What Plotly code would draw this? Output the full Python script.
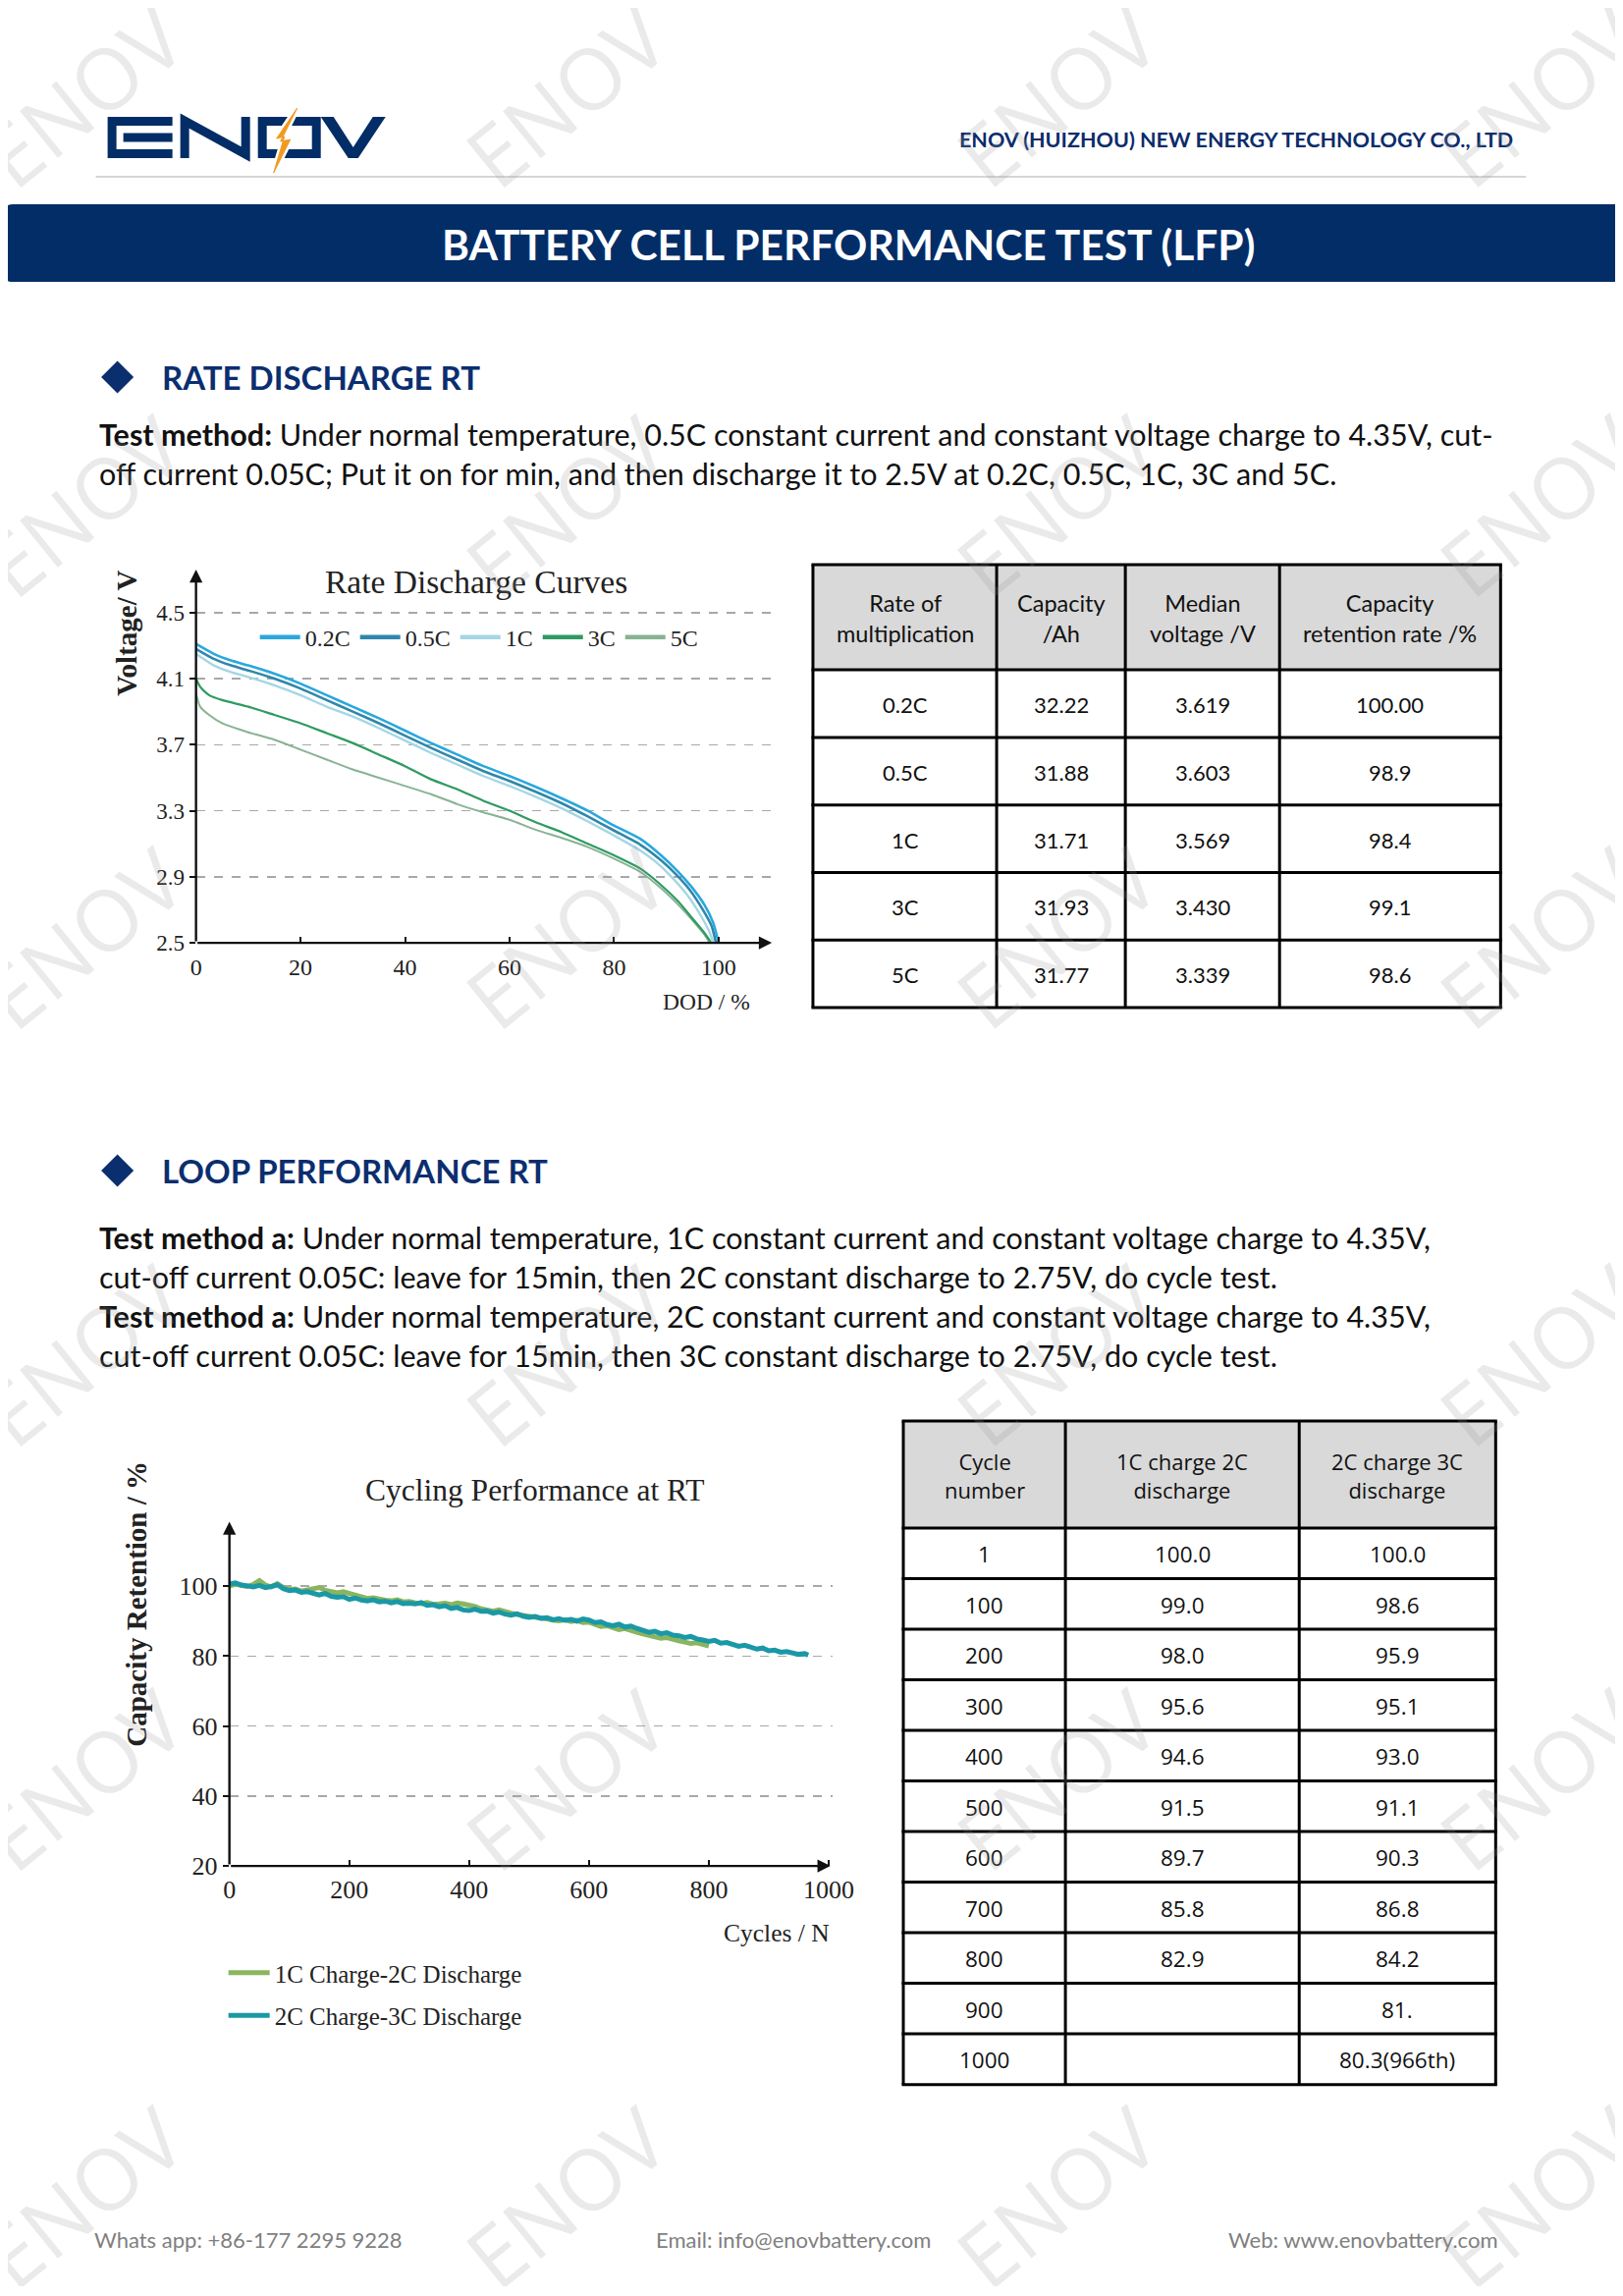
import plotly.graph_objects as go

# page geometry: the browser keeps its default 8px body margin; the capture is very slightly
# compressed/shifted, so page coordinates are mapped with a small linear compensation.
PAGE_W, PAGE_H = 1653, 2338
OFF = 8
SX, SY = 0.988, 0.9935
FW, FH = PAGE_W - 2 * OFF, 2320


def X(px):
    pc = (px - 5.6) / 0.9937
    return (pc / SX - OFF) / FW


def Y(py):
    return 1 - (py / SY - OFF) / FH


# ---------------- data: rate discharge curves ----------------
rate_labels = ["0.2C", "0.5C", "1C", "3C", "5C"]
rate_colors = ["#2aa7dc", "#2f87ab", "#a5d6e4", "#2f9a62", "#88b393"]
rate_widths = [2.6, 2.6, 2.4, 2.2, 2.0]

dod_02 = [0, 3.4, 6.7, 10, 15, 20, 25, 30, 35, 40, 45, 50, 55, 60, 65, 70, 75, 80, 85, 89, 92.3, 94.8, 97.3, 99, 100]
v_02 = [4.31, 4.25, 4.21, 4.18, 4.13, 4.07, 4.00, 3.93, 3.86, 3.785, 3.71, 3.64, 3.57, 3.51, 3.445, 3.375, 3.30,
        3.21, 3.13, 3.03, 2.93, 2.84, 2.73, 2.62, 2.50]
dod_05 = [0, 3.4, 6.7, 10, 15, 20, 25, 30, 35, 40, 45, 50, 55, 60, 65, 70, 75, 80, 85, 89, 92, 94.5, 97, 98.7, 99.5]
v_05 = [4.28, 4.22, 4.18, 4.15, 4.10, 4.04, 3.97, 3.90, 3.83, 3.755, 3.68, 3.61, 3.54, 3.48, 3.415, 3.345, 3.265,
        3.18, 3.095, 3.00, 2.91, 2.82, 2.70, 2.60, 2.50]
dod_1 = [0, 3.4, 6.7, 10, 15, 20, 25, 30, 35, 40, 45, 50, 55, 60, 65, 70, 75, 80, 85, 88, 91, 94, 96.5, 98.2, 99]
v_1 = [4.25, 4.18, 4.14, 4.11, 4.06, 4.00, 3.93, 3.87, 3.80, 3.725, 3.65, 3.58, 3.51, 3.45, 3.385, 3.315, 3.235,
       3.15, 3.06, 2.99, 2.90, 2.79, 2.67, 2.57, 2.50]
dod_3 = [0, 0.8, 2.5, 5, 10, 15, 20, 25, 30, 35, 40, 45, 50, 55, 60, 65, 70, 75, 80, 85, 89, 92.3, 95.2, 97.3, 98.6]
v_3 = [4.10, 4.05, 4.00, 3.97, 3.93, 3.88, 3.83, 3.77, 3.71, 3.64, 3.57, 3.49, 3.43, 3.36, 3.30, 3.23, 3.17, 3.10,
       3.03, 2.95, 2.85, 2.75, 2.64, 2.56, 2.50]
dod_5 = [0, 0.8, 2.5, 5, 10, 15, 20, 25, 30, 35, 40, 45, 50, 55, 60, 65, 70, 75, 80, 85, 89, 92.3, 95.2, 97.3, 98.3]
v_5 = [4.01, 3.93, 3.88, 3.83, 3.775, 3.73, 3.67, 3.61, 3.55, 3.50, 3.45, 3.40, 3.34, 3.29, 3.245, 3.185, 3.135,
       3.08, 3.01, 2.93, 2.83, 2.73, 2.63, 2.55, 2.50]

rate_dod = [dod_02, dod_05, dod_1, dod_3, dod_5]
rate_v = [v_02, v_05, v_1, v_3, v_5]

volt_ticks = [2.5, 2.9, 3.3, 3.7, 4.1, 4.5]
dod_ticks = [0, 20, 40, 60, 80, 100]

# ---------------- data: cycling ----------------
cyc_a = [0, 10, 20, 30, 40, 50, 60, 70, 80, 90, 100, 110, 120, 130, 140, 150, 160, 170, 180, 190, 200, 210, 220,
         230, 240, 250, 260, 270, 280, 290, 300, 310, 320, 330, 340, 350, 360, 370, 380, 390, 400, 410, 420, 430,
         440, 450, 460, 470, 480, 490, 500, 510, 520, 530, 540, 550, 560, 570, 580, 590, 600, 610, 620, 630, 640,
         650, 660, 670, 680, 690, 700, 710, 720, 730, 740, 750, 760, 770, 780, 790, 800]
ret_a = [100.0, 100.6, 100.2, 99.9, 100.5, 101.6, 100.3, 99.8, 100.7, 99.6, 99.0, 99.2, 98.6, 98.9, 99.4, 99.6,
         98.8, 98.5, 98.1, 98.4, 98.0, 97.4, 96.9, 96.5, 96.7, 96.2, 96.0, 95.8, 96.1, 95.5, 95.6, 95.2, 95.0, 95.3,
         94.8, 94.9, 95.1, 94.7, 95.2, 94.9, 94.6, 94.2, 93.5, 93.1, 92.8, 93.2, 92.6, 92.3, 91.9, 91.7, 91.5, 91.2,
         90.9, 90.6, 90.3, 90.1, 90.4, 89.9, 90.2, 89.6, 89.7, 89.0, 88.5, 88.7, 88.1, 87.6, 87.9, 87.2, 86.8, 86.3,
         85.8, 85.5, 85.1, 85.3, 84.7, 84.4, 84.0, 83.6, 83.8, 83.2, 82.9]

cyc_b = [0, 10, 20, 30, 40, 50, 60, 70, 80, 90, 100, 110, 120, 130, 140, 150, 160, 170, 180, 190, 200, 210, 220,
         230, 240, 250, 260, 270, 280, 290, 300, 310, 320, 330, 340, 350, 360, 370, 380, 390, 400, 410, 420, 430,
         440, 450, 460, 470, 480, 490, 500, 510, 520, 530, 540, 550, 560, 570, 580, 590, 600, 610, 620, 630, 640,
         650, 660, 670, 680, 690, 700, 710, 720, 730, 740, 750, 760, 770, 780, 790, 800, 810, 820, 830, 840, 850,
         860, 870, 880, 890, 900, 910, 920, 930, 940, 950, 960, 966]
ret_b = [100.6, 100.9, 100.3, 100.1, 99.8, 100.2, 99.6, 99.9, 100.4, 99.3, 98.7, 98.9, 98.2, 98.4, 97.8, 97.5,
         97.9, 97.1, 96.8, 97.0, 96.2, 96.6, 96.0, 95.8, 96.1, 95.5, 95.7, 95.2, 95.6, 95.0, 95.1, 94.9, 95.3, 94.5,
         94.7, 94.1, 94.4, 93.6, 93.9, 93.2, 93.0, 93.4, 92.8, 92.9, 92.3, 92.6, 92.0, 91.7, 92.1, 91.4, 91.1, 91.3,
         90.8, 91.0, 90.4, 90.7, 90.2, 90.5, 90.0, 90.6, 90.3, 89.6, 89.8, 89.0, 88.7, 89.1, 88.3, 88.6, 87.9, 87.4,
         86.8, 87.1, 86.4, 86.7, 86.0, 85.8, 85.3, 85.6, 84.9, 84.6, 84.2, 84.5, 83.7, 83.9, 83.2, 82.8, 83.1, 82.4,
         82.0, 82.3, 81.5, 81.7, 81.1, 81.3, 80.8, 80.5, 80.7, 80.3]

cyc_labels = ["1C Charge-2C Discharge", "2C Charge-3C Discharge"]
cyc_colors = ["#8ab55e", "#1a98a6"]
ret_ticks = [20, 40, 60, 80, 100]
cycle_ticks = [0, 200, 400, 600, 800, 1000]

# ---------------- data: tables ----------------
t1_header = ["Rate of<br>multiplication", "Capacity<br>/Ah", "Median<br>voltage /V", "Capacity<br>retention rate /%"]
t1_rate = ["0.2C", "0.5C", "1C", "3C", "5C"]
t1_capacity = ["32.22", "31.88", "31.71", "31.93", "31.77"]
t1_median = ["3.619", "3.603", "3.569", "3.430", "3.339"]
t1_retention = ["100.00", "98.9", "98.4", "99.1", "98.6"]

t2_header = ["Cycle<br>number", "1C charge 2C<br>discharge", "2C charge 3C<br>discharge"]
t2_cycle = ["1", "100", "200", "300", "400", "500", "600", "700", "800", "900", "1000"]
t2_1c2c = ["100.0", "99.0", "98.0", "95.6", "94.6", "91.5", "89.7", "85.8", "82.9", "", ""]
t2_2c3c = ["100.0", "98.6", "95.9", "95.1", "93.0", "91.1", "90.3", "86.8", "84.2", "81.", "80.3(966th)"]

# ---------------- styling constants ----------------
NAVY = "#032d67"
SERIF = "Liberation Serif"
SANS = "Lato"

fig = go.Figure()

# rate discharge curves (drawn bottom -> top); legend entries via empty traces with thick samples
for i in [4, 3, 2, 1, 0]:
    fig.add_trace(go.Scatter(
        x=rate_dod[i], y=rate_v[i], mode="lines", name=rate_labels[i], showlegend=False,
        line=dict(color=rate_colors[i], width=rate_widths[i], shape="spline", smoothing=0.6),
        xaxis="x", yaxis="y", hoverinfo="skip",
    ))
for i in range(5):
    fig.add_trace(go.Scatter(x=[None], y=[None], mode="lines", name=rate_labels[i],
                             line=dict(color=rate_colors[i], width=4.5), xaxis="x", yaxis="y",
                             legend="legend", showlegend=True))

# cycling traces
fig.add_trace(go.Scatter(x=cyc_a, y=ret_a, mode="lines", name=cyc_labels[0],
                         line=dict(color=cyc_colors[0], width=5), xaxis="x2", yaxis="y2",
                         legend="legend2", legendgroup="a", hoverinfo="skip"))
fig.add_trace(go.Scatter(x=cyc_b, y=ret_b, mode="lines", name=cyc_labels[1],
                         line=dict(color=cyc_colors[1], width=5), xaxis="x2", yaxis="y2",
                         legend="legend2", legendgroup="b", hoverinfo="skip"))

shapes = []
annotations = []


def path_px(cmds):
    out = []
    for c in cmds:
        if c == "Z":
            out.append("Z")
        else:
            letter, pts = c[0], c[1:]
            coords = " ".join(f"{X(px):.6f},{Y(py):.6f}" for px, py in pts)
            out.append(f"{letter}{coords}")
    return " ".join(out)


def add_path(cmds, fill=None, line_color=None, width=0, layer="above"):
    shapes.append(dict(type="path", xref="paper", yref="paper", path=path_px(cmds),
                       fillcolor=fill if fill else "rgba(0,0,0,0)",
                       line=dict(color=line_color if line_color else "rgba(0,0,0,0)", width=width),
                       layer=layer))


def add_line(x0, y0, x1, y1, color, width, layer="above"):
    shapes.append(dict(type="line", xref="paper", yref="paper", x0=X(x0), y0=Y(y0), x1=X(x1), y1=Y(y1),
                       line=dict(color=color, width=width), layer=layer))


def add_rect(x0, y0, x1, y1, fill, layer="below"):
    shapes.append(dict(type="rect", xref="paper", yref="paper", x0=X(x0), y0=Y(y0), x1=X(x1), y1=Y(y1),
                       fillcolor=fill, line=dict(width=0), layer=layer))


def add_text(px, py, text, size, color="#000", family=SANS, xanchor="center", yanchor="middle", angle=0,
             bold=False):
    annotations.append(dict(xref="paper", yref="paper", x=X(px), y=Y(py), text=f"<b>{text}</b>" if bold else text,
                            showarrow=False, xanchor=xanchor, yanchor=yanchor, textangle=angle,
                            font=dict(family=family, size=size, color=color)))


# ---------------- header ----------------
add_path([("M", (174, 123.5)), ("L", (112.5, 123.5)), ("L", (112.5, 156.5)), ("L", (174, 156.5))],
         line_color=NAVY, width=9)
add_path([("M", (124, 140)), ("L", (174, 140))], line_color=NAVY, width=9)
add_path([("M", (186.5, 161)), ("L", (186.5, 123)), ("L", (248.5, 157)), ("L", (248.5, 119))], line_color=NAVY,
         width=9)
add_path([("M", (265.5, 123.5)), ("L", (320.5, 123.5)), ("L", (320.5, 156.5)), ("L", (265.5, 156.5)), "Z"],
         line_color=NAVY, width=9)
bolt = [("M", (301, 110)), ("L", (284, 144)), ("L", (294, 142)), ("L", (277, 176)), ("L", (288, 139)),
        ("L", (280, 141)), "Z"]
add_path(bolt, fill="white", line_color="white", width=6)
add_path(bolt, fill="#f29a1f", line_color="#f29a1f", width=1)
add_path([("M", (325, 119)), ("L", (338, 119)), ("L", (358, 150)), ("L", (378, 119)), ("L", (391, 119)),
          ("L", (363, 161)), ("L", (353, 161)), "Z"], fill=NAVY)

add_text(1541, 142, "ENOV (HUIZHOU) NEW ENERGY TECHNOLOGY CO., LTD", 21.5, color="#0b2c6b", xanchor="right",
         bold=True)
add_line(96, 180, 1552, 180, "#d6d6d6", 2)

r = 12
add_path([("M", (r, 208)), ("L", (PAGE_W - r, 208)), ("Q", (PAGE_W, 208), (PAGE_W, 208 + r)),
          ("L", (PAGE_W, 287 - r)), ("Q", (PAGE_W, 287), (PAGE_W - r, 287)), ("L", (r, 287)),
          ("Q", (0, 287), (0, 287 - r)), ("L", (0, 208 + r)), ("Q", (0, 208), (r, 208)), "Z"],
         fill=NAVY, layer="below")
add_text(862, 248, "BATTERY CELL PERFORMANCE TEST (LFP)", 42.5, color="white", bold=True)


# ---------------- section headings & text ----------------
def diamond(cx, cy):
    add_path([("M", (cx, cy - 16.5)), ("L", (cx + 16.5, cy)), ("L", (cx, cy + 16.5)), ("L", (cx - 16.5, cy)), "Z"],
             fill="#0b2e6f")


BODY = 30.5
TX = 97
diamond(118, 384)
add_text(161, 384, "RATE DISCHARGE RT", 33, color="#0b2e6f", xanchor="left", bold=True)
add_text(TX, 442, "<b>Test method:</b> Under normal temperature, 0.5C constant current and constant voltage "
                  "charge to 4.35V, cut-", BODY, color="#111", xanchor="left")
add_text(TX, 482, "off current 0.05C; Put it on for min, and then discharge it to 2.5V at 0.2C, 0.5C, 1C, 3C "
                  "and 5C.", BODY, color="#111", xanchor="left")

diamond(118, 1192)
add_text(161, 1192, "LOOP PERFORMANCE RT", 33, color="#0b2e6f", xanchor="left", bold=True)
add_text(TX, 1260, "<b>Test method a:</b> Under normal temperature, 1C constant current and constant voltage "
                   "charge to 4.35V,", BODY, color="#111", xanchor="left")
add_text(TX, 1300, "cut-off current 0.05C: leave for 15min, then 2C constant discharge to 2.75V, do cycle test.",
         BODY, color="#111", xanchor="left")
add_text(TX, 1340, "<b>Test method a:</b> Under normal temperature, 2C constant current and constant voltage "
                   "charge to 4.35V,", BODY, color="#111", xanchor="left")
add_text(TX, 1380, "cut-off current 0.05C: leave for 15min, then 3C constant discharge to 2.75V, do cycle test.",
         BODY, color="#111", xanchor="left")

# ---------------- chart titles / axis titles ----------------
add_text(483, 592, "Rate Discharge Curves", 33.5, color="#222", family=SERIF)
add_text(127, 645, "Voltage/ V", 29, color="#222", family=SERIF, angle=-90, bold=True)
add_text(718, 1020, "DOD / %", 23.5, color="#222", family=SERIF)

add_text(543, 1517, "Cycling Performance at RT", 31.5, color="#222", family=SERIF)
add_text(137, 1633, "Capacity Retention / %", 29, color="#222", family=SERIF, angle=-90, bold=True)
add_text(789, 1968, "Cycles / N", 25.5, color="#222", family=SERIF)

# axis arrows
for xr, yr, xt, yt, x0, y0 in [("x", "y", 110.2, 2.5, 0, 2.5), ("x", "y", 0, 4.76, 0, 2.5),
                               ("x2", "y2", 1003, 20, 0, 20), ("x2", "y2", 0, 118.4, 0, 20)]:
    annotations.append(dict(xref=xr, yref=yr, axref=xr, ayref=yr, x=xt, y=yt, ax=x0, ay=y0, text="",
                            showarrow=True, arrowhead=2, arrowsize=1.1, arrowwidth=2.4, arrowcolor="#111"))


# ---------------- tables ----------------
def draw_table(col_edges, top, header_h, row_h, header, columns, hfont, cfont, hsize, csize):
    nrows = len(columns[0])
    bottom = top + header_h + row_h * nrows
    add_rect(col_edges[0], top, col_edges[-1], top + header_h, "#d9d9d9")
    ys = [top, top + header_h] + [top + header_h + row_h * (k + 1) for k in range(nrows)]
    for yy in ys:
        add_line(col_edges[0] - 1.5, yy, col_edges[-1] + 1.5, yy, "#000", 3)
    for xx in col_edges:
        add_line(xx, top, xx, bottom, "#000", 3)
    for j, h in enumerate(header):
        cx = (col_edges[j] + col_edges[j + 1]) / 2
        add_text(cx, top + header_h / 2 + 1, h, hsize, color="#111", family=hfont)
    for j, col in enumerate(columns):
        cx = (col_edges[j] + col_edges[j + 1]) / 2
        for k, v in enumerate(col):
            if v:
                add_text(cx, top + header_h + row_h * (k + 0.5) + 1, v, csize, color="#111", family=cfont)


draw_table([826, 1013, 1144, 1301, 1526], 575, 107, 68.8, t1_header,
           [t1_rate, t1_capacity, t1_median, t1_retention], SANS, SANS, 23.5, 22)
draw_table([918, 1083, 1321, 1521], 1447, 109, 51.5, t2_header,
           [t2_cycle, t2_1c2c, t2_2c3c], "Open Sans", "Open Sans", 22, 22.5)

# ---------------- footer ----------------
add_text(92, 2280, "Whats app: +86-177 2295 9228", 22, color="#7f7f7f", xanchor="left")
add_text(664, 2280, "Email: info@enovbattery.com", 22, color="#7f7f7f", xanchor="left")
add_text(1247, 2280, "Web: www.enovbattery.com", 22, color="#7f7f7f", xanchor="left")

# ---------------- watermarks ----------------
for wy in [97, 514, 954, 1379, 1811, 2236]:
    for wx in [82, 574, 1073, 1565]:
        add_text(wx, wy, "ENOV", 86, color="rgba(150,150,150,0.2)", family="Open Sans", angle=-39)

fig.update_layout(
    width=FW, height=FH, margin=dict(l=0, r=0, t=0, b=0, pad=0),
    paper_bgcolor="white", plot_bgcolor="rgba(0,0,0,0)",
    showlegend=True,
    xaxis=dict(domain=[X(198), X(790)], range=[0, 111.3], anchor="y", tickvals=dod_ticks,
               ticks="inside", ticklen=6, tickwidth=2, tickcolor="#111", showgrid=False, zeroline=False,
               showline=False, tickfont=dict(family=SERIF, size=24, color="#222"), ticklabelstandoff=8,
               fixedrange=True),
    yaxis=dict(domain=[Y(960), Y(580)], range=[2.5, 4.76], anchor="x", tickvals=volt_ticks,
               ticktext=[f"{v:.1f}" for v in volt_ticks],
               ticks="outside", ticklen=6, tickwidth=2, tickcolor="#111", showgrid=True, gridcolor="#a8a8a8",
               gridwidth=1.5, griddash="dash", zeroline=False, showline=False,
               tickfont=dict(family=SERIF, size=23, color="#222"), fixedrange=True),
    xaxis2=dict(domain=[X(232), X(846)], range=[0, 1006.6], anchor="y2", tickvals=cycle_ticks,
                ticks="inside", ticklen=6, tickwidth=2, tickcolor="#111", showgrid=False, zeroline=False,
                showline=False, tickfont=dict(family=SERIF, size=26, color="#222"), ticklabelstandoff=6,
                fixedrange=True),
    yaxis2=dict(domain=[Y(1900), Y(1549.5)], range=[20, 118.4], anchor="x2", tickvals=ret_ticks,
                ticks="outside", ticklen=6, tickwidth=2, tickcolor="#111", showgrid=True, gridcolor="#a8a8a8",
                gridwidth=1.5, griddash="dash", zeroline=False, showline=False,
                tickfont=dict(family=SERIF, size=26, color="#222"), fixedrange=True),
    legend=dict(orientation="h", x=X(258), xanchor="left", y=Y(649), yanchor="middle",
                font=dict(family=SERIF, size=24, color="#222"), bgcolor="rgba(0,0,0,0)",
                traceorder="normal", itemwidth=41),
    legend2=dict(orientation="v", x=X(226), xanchor="left", y=Y(1986), yanchor="top",
                 font=dict(family=SERIF, size=25, color="#222"), bgcolor="rgba(0,0,0,0)",
                 traceorder="grouped", tracegroupgap=8, itemwidth=42),
    shapes=shapes,
    annotations=annotations,
)

fig.write_html("out.html", config={"displayModeBar": False, "staticPlot": True})
